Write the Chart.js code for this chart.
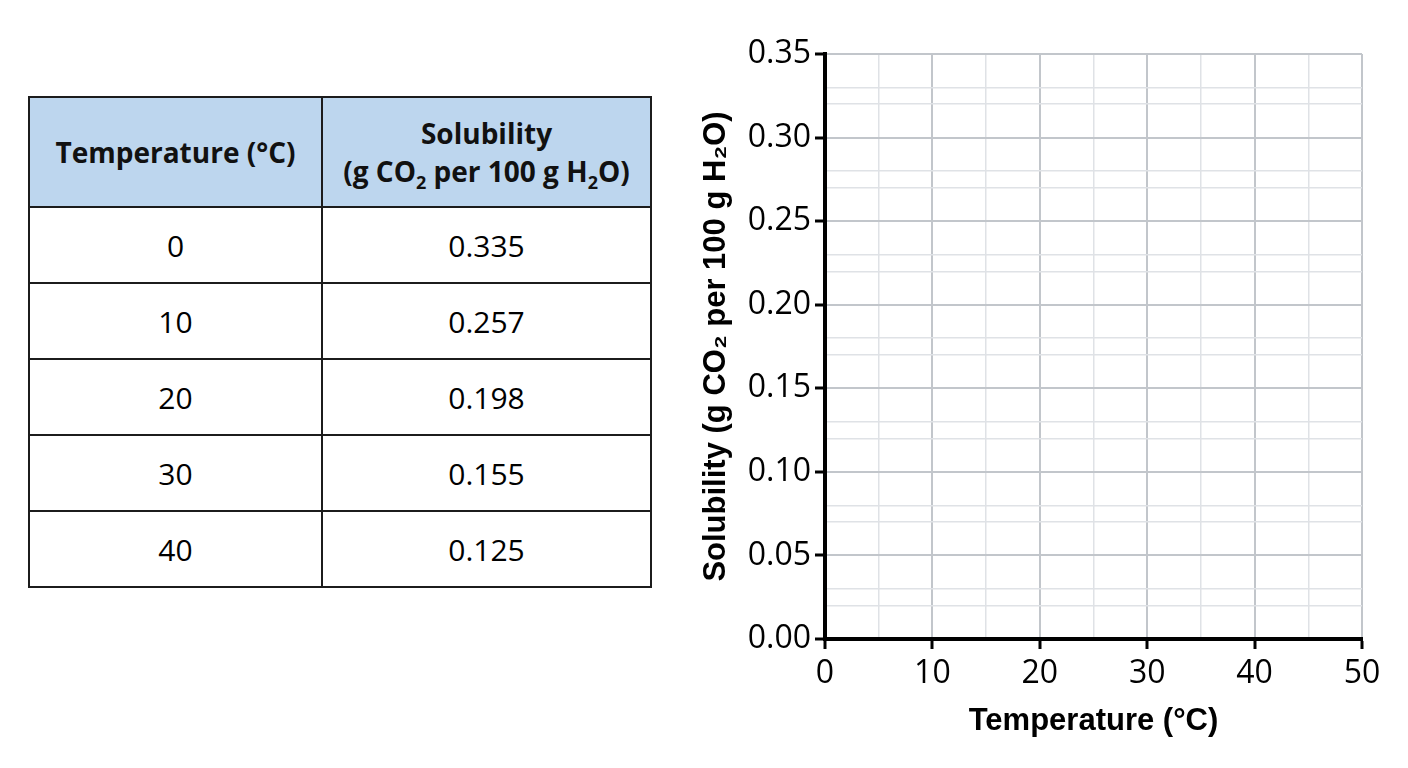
<!DOCTYPE html>
<html>
<head>
<meta charset="utf-8">
<script src="https://cdn.jsdelivr.net/npm/chart.js@4.4.1/dist/chart.umd.min.js"></script>
<style>
  html, body { margin: 0; padding: 0; background: #fff; }
  body { width: 1408px; height: 768px; position: relative; overflow: hidden; font-family: "Open Sans", "Noto Sans", sans-serif; color: #000; }
  #data-table { position: absolute; left: 28px; top: 96px; border-collapse: collapse; }
  #data-table th, #data-table td { border: 2px solid #1c1c1c; text-align: center; padding: 0; }
  #data-table th { background: #bdd6ee; font-weight: 700; font-size: 28px; line-height: 38px; height: 108px; color: #111; }
  #data-table td { font-size: 30px; height: 74px; }
  #data-table sub { font-size: 18px; line-height: 0; }
  #chart-wrap { position: absolute; left: 680px; top: 0; width: 728px; height: 768px; }
</style>
</head>
<body>

<table id="data-table">
  <thead>
    <tr>
      <th style="width:291px">Temperature (°C)</th>
      <th style="width:327px">Solubility<br>(g CO<sub>2</sub> per 100 g H<sub>2</sub>O)</th>
    </tr>
  </thead>
  <tbody id="table-body"></tbody>
</table>

<div id="chart-wrap"><canvas id="graph"></canvas></div>

<script>
// TABLE DATA
const temperatures = [0, 10, 20, 30, 40];
const solubilities = ['0.335', '0.257', '0.198', '0.155', '0.125'];

// AXIS RANGES (empty graph to plot on)
const xRange = [0, 50];
const yRange = [0, 0.35];
const xStep = 5, xLabelEvery = 10;
const yStep = 0.01;

// fill table
var body = document.getElementById('table-body');
temperatures.forEach(function(t, i) {
  var tr = document.createElement('tr');
  var td1 = document.createElement('td');
  td1.textContent = t;
  var td2 = document.createElement('td');
  td2.textContent = solubilities[i];
  tr.appendChild(td1);
  tr.appendChild(td2);
  body.appendChild(tr);
});

// helpers for the grid
function yHundredths(v) { return Math.round(v * 100); }
function yMajor(v) { return yHundredths(v) % 5 === 0; }
function yMinor(v) { var r = yHundredths(v) % 5; return r === 2 || r === 3; }
function xMajor(v) { return Math.round(v) % xLabelEvery === 0; }

var ctx = document.getElementById('graph');
var chart = new Chart(ctx, {
  type: 'scatter',
  data: { datasets: [{ label: 'Solubility', data: [] }] },
  options: {
    responsive: true,
    maintainAspectRatio: false,
    animation: false,
    layout: { padding: { top: 54, right: 46, bottom: 0, left: 0 } },
    plugins: { legend: { display: false }, tooltip: { enabled: false } },
    scales: {
      x: {
        type: 'linear',
        min: xRange[0],
        max: xRange[1],
        afterFit: function(scale) { scale.height = 129; },
        ticks: {
          stepSize: xStep,
          autoSkip: false,
          maxRotation: 0,
          padding: 6,
          color: '#000',
          font: { family: 'Open Sans', size: 32 },
          callback: function(v) { return xMajor(v) ? v : ''; }
        },
        grid: {
          color: function(c) { return xMajor(c.tick.value) ? '#c2c6cb' : '#dfe2e6'; },
          lineWidth: function(c) { return xMajor(c.tick.value) ? 2 : 1.5; },
          tickLength: 10,
          tickWidth: 3,
          tickColor: function(c) { return xMajor(c.tick.value) ? '#000' : 'rgba(0,0,0,0)'; }
        },
        border: { color: '#000', width: 4 },
        title: {
          display: true,
          text: 'Temperature (°C)',
          color: '#000',
          font: { family: 'Liberation Sans', size: 31, weight: 'bold' },
          padding: { top: 28, bottom: 28 }
        }
      },
      y: {
        type: 'linear',
        min: yRange[0],
        max: yRange[1],
        afterFit: function(scale) { scale.width = 145; },
        ticks: {
          stepSize: yStep,
          autoSkip: false,
          padding: 4,
          color: '#000',
          font: { family: 'Open Sans', size: 32 },
          callback: function(v) { return yMajor(v) ? v.toFixed(2) : ''; }
        },
        grid: {
          color: function(c) {
            var v = c.tick.value;
            if (yMajor(v)) return '#c2c6cb';
            if (yMinor(v)) return '#dfe2e6';
            return 'rgba(0,0,0,0)';
          },
          lineWidth: function(c) { return yMajor(c.tick.value) ? 2 : 1.5; },
          tickLength: 10,
          tickWidth: 3,
          tickColor: function(c) { return yMajor(c.tick.value) ? '#000' : 'rgba(0,0,0,0)'; }
        },
        border: { color: '#000', width: 4 },
        title: {
          display: true,
          text: 'Solubility (g CO₂ per 100 g H₂O)',
          color: '#000',
          font: { family: 'Liberation Sans', size: 31, weight: 'bold' },
          padding: { top: 18, bottom: 18 }
        }
      }
    }
  }
});
</script>
</body>
</html>
